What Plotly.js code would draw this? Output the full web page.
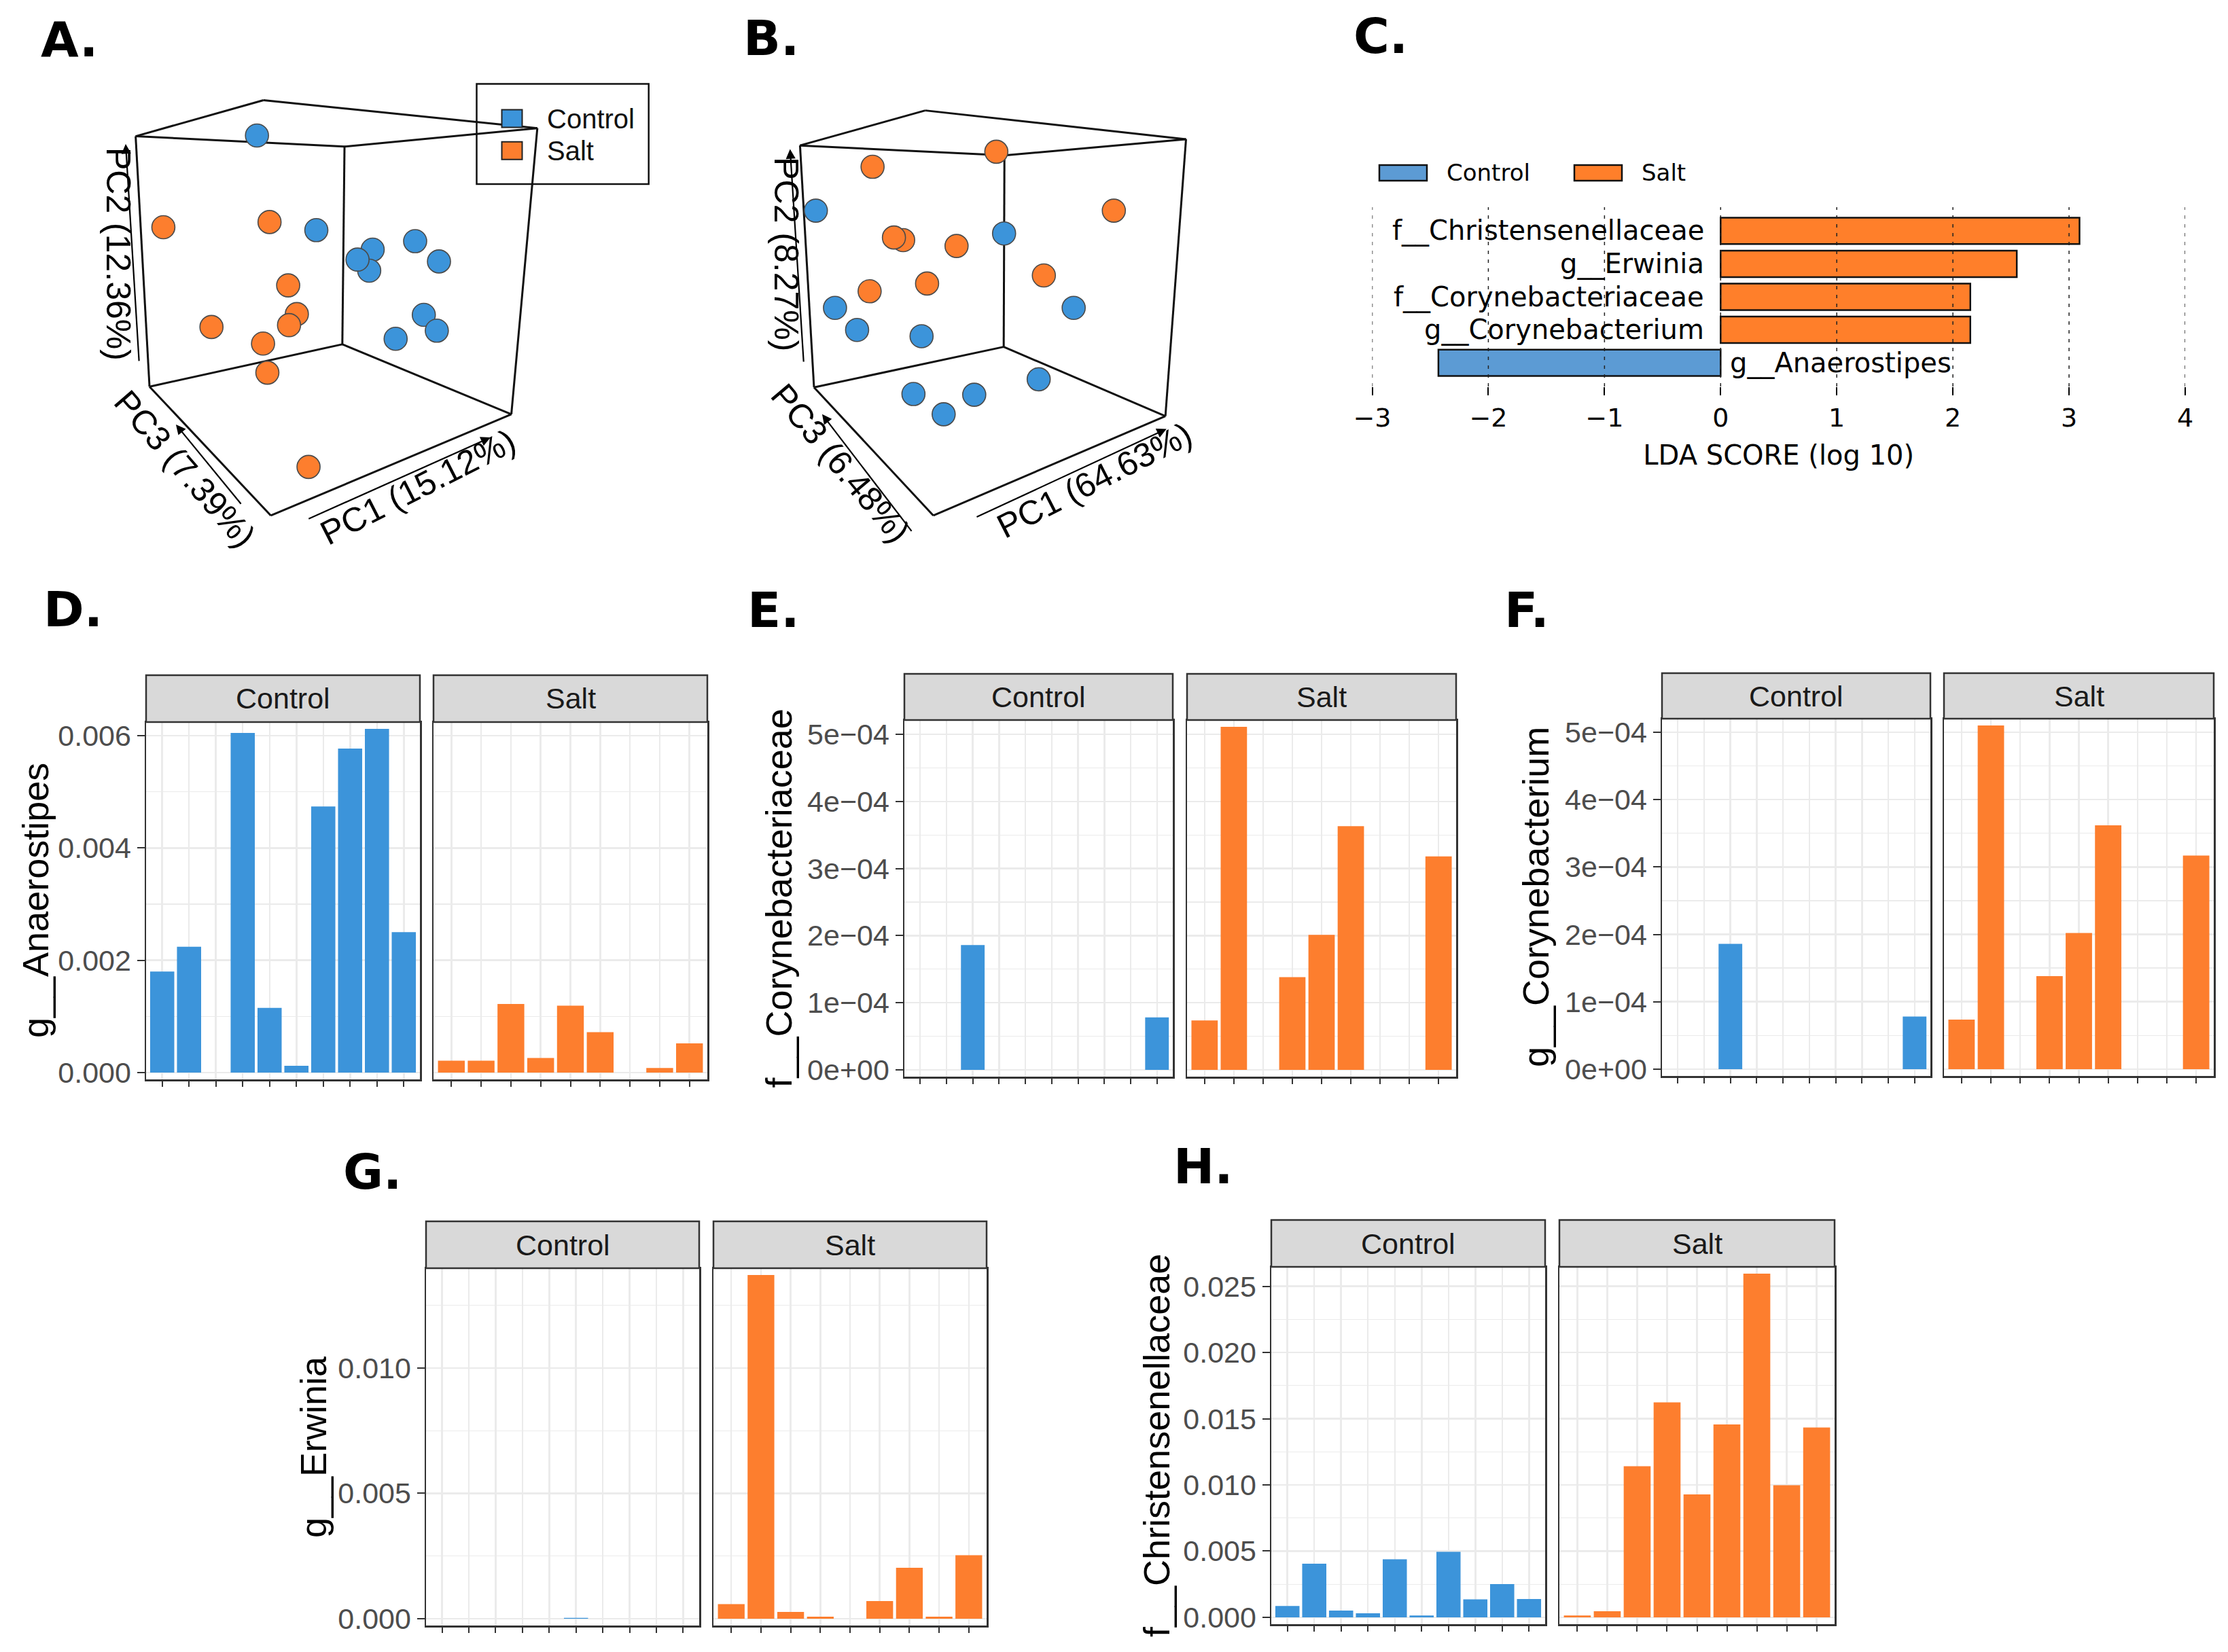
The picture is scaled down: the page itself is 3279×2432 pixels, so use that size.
<!DOCTYPE html>
<html><head><meta charset="utf-8">
<script src="https://cdn.plot.ly/plotly-3.0.1.min.js"></script>
<style>html,body{margin:0;padding:0;background:#fff}#chart{width:3279px;height:2432px}</style>
</head><body><div id="chart"></div>
<script>
const W = 3279, H = 2432;

// ---------- groups ----------
const groups = ['Control', 'Salt'];
const groupColors = ['#3C94DA', '#FD7E2E'];
const ldaColors = ['#5C9BD4', '#FF7F2A'];

// ---------- Panel A: PCoA projection ----------
const pcaA_controlX = [593, 730, 860, 852, 825, 958, 1013, 978, 1008, 913];
const pcaA_controlY = [368, 625, 678, 735, 705, 655, 710, 855, 898, 920];
const pcaA_saltX = [377, 622, 665, 685, 667, 488, 607, 617, 712];
const pcaA_saltY = [617, 603, 775, 853, 883, 888, 933, 1012, 1268];
const pcaA_axisLabels = ['PC1 (15.12%)', 'PC2 (12.36%)', 'PC3 (7.39%)'];

// ---------- Panel B ----------
const pcaB_controlX = [278, 789, 330, 390, 565, 978, 883, 543, 708, 625];
const pcaB_controlY = [572, 634, 836, 896, 913, 836, 1030, 1070, 1072, 1125];
const pcaB_saltX = [432, 768, 1087, 515, 490, 660, 897, 580, 424];
const pcaB_saltY = [453, 412, 572, 652, 645, 668, 748, 770, 791];
const pcaB_axisLabels = ['PC1 (64.63%)', 'PC2 (8.27%)', 'PC3 (6.48%)'];

// ---------- Panel C: LEfSe ----------
const ldaTaxa = ['f__Christensenellaceae', 'g__Erwinia', 'f__Corynebacteriaceae', 'g__Corynebacterium', 'g__Anaerostipes'];
const ldaScores = [3.09, 2.55, 2.15, 2.15, -2.43];
const ldaGroup = ['Salt', 'Salt', 'Salt', 'Salt', 'Control'];
const ldaTicks = [-3, -2, -1, 0, 1, 2, 3, 4];

// ---------- Panels D-H: relative abundance per sample ----------
const samplesControl = ['C1','C2','C3','C4','C5','C6','C7','C8','C9','C10'];
const samplesSalt = ['S1','S2','S3','S4','S5','S6','S7','S8','S9'];

const anaerostipesControl = [0.00180, 0.00224, 0, 0.00605, 0.00115, 0.00012, 0.00474, 0.00577, 0.00612, 0.00250];
const anaerostipesSalt = [0.00021, 0.00021, 0.00122, 0.00026, 0.00119, 0.00072, 0, 0.00008, 0.00052];
const anaerostipesTickVals = [0, 0.002, 0.004, 0.006];
const anaerostipesTickText = ['0.000', '0.002', '0.004', '0.006'];
const anaerostipesMinor = [0.001, 0.003, 0.005];

const corynebacteriaceaeControl = [0, 0, 0.000186, 0, 0, 0, 0, 0, 0, 0.000078];
const corynebacteriaceaeSalt = [0.0000735, 0.000511, 0, 0.000138, 0.000201, 0.000363, 0, 0, 0.000318];
const corynebacteriumControl = [0, 0, 0.000186, 0, 0, 0, 0, 0, 0, 0.000078];
const corynebacteriumSalt = [0.0000734, 0.000510, 0, 0.000138, 0.000202, 0.000362, 0, 0, 0.000317];
const sciTickVals = [0, 0.0001, 0.0002, 0.0003, 0.0004, 0.0005];
const sciTickText = ['0e+00', '1e\u221204', '2e\u221204', '3e\u221204', '4e\u221204', '5e\u221204'];
const sciMinor = [0.00005, 0.00015, 0.00025, 0.00035, 0.00045];

const erwiniaControl = [0, 0, 0, 0, 0, 0.00003, 0, 0, 0, 0];
const erwiniaSalt = [0.00058, 0.01371, 0.00027, 0.00008, 0, 0.00070, 0.00203, 0.00008, 0.00253];
const erwiniaTickVals = [0, 0.005, 0.010];
const erwiniaTickText = ['0.000', '0.005', '0.010'];
const erwiniaMinor = [0.0025, 0.0075, 0.0125];

const christensenellaceaeControl = [0.00085, 0.00405, 0.00051, 0.00030, 0.00438, 0.00013, 0.00495, 0.00136, 0.00251, 0.00138];
const christensenellaceaeSalt = [0.00013, 0.00046, 0.01141, 0.01623, 0.00928, 0.01456, 0.02595, 0.00997, 0.01433];
const christensenellaceaeTickVals = [0, 0.005, 0.010, 0.015, 0.020, 0.025];
const christensenellaceaeTickText = ['0.000', '0.005', '0.010', '0.015', '0.020', '0.025'];
const christensenellaceaeMinor = [0.0025, 0.0075, 0.0125, 0.0175, 0.0225];

// ---------- helpers ----------
const px = v => v / W;
const py = v => 1 - v / H;

const traces = [];
const layout = {
  width: W, height: H,
  margin: {l: 0, r: 0, t: 0, b: 0},
  paper_bgcolor: '#ffffff', plot_bgcolor: '#ffffff',
  showlegend: false, barmode: 'overlay',
  font: {family: 'Liberation Sans, Arial, sans-serif', color: '#000'},
  shapes: [], annotations: []
};

function panelLabel(text, x, y) {
  layout.annotations.push({text: '<b>' + text + '</b>', xref: 'paper', yref: 'paper',
    x: px(x), y: py(y), xanchor: 'left', yanchor: 'middle', showarrow: false,
    font: {family: 'DejaVu Sans', size: 72, color: '#000'}});
}

// ---------- 3D-projection panels (A, B) ----------
function pcaPanel(ax, domX, cX, cY, sX, sY, box, arrows, labels, labelPos) {
  const xa = ax === 1 ? 'xaxis' : 'xaxis' + ax, ya = ax === 1 ? 'yaxis' : 'yaxis' + ax;
  const xr = ax === 1 ? 'x' : 'x' + ax, yr = ax === 1 ? 'y' : 'y' + ax;
  layout[xa] = {domain: [px(domX[0]), px(domX[1])], range: [0, 1568], visible: false, anchor: yr};
  layout[ya] = {domain: [py(850), py(0)], range: [1568, 0], visible: false, anchor: xr};
  box.forEach(s => layout.shapes.push({type: 'line', xref: xr, yref: yr, x0: s[0], y0: s[1], x1: s[2], y1: s[3],
    line: {color: '#111', width: 3}, layer: 'below'}));
  const data = [[cX, cY], [sX, sY]];
  data.forEach((d, i) => traces.push({type: 'scatter', mode: 'markers', x: d[0], y: d[1], xaxis: xr, yaxis: yr,
    name: groups[i], hoverinfo: 'skip',
    marker: {size: 34, color: groupColors[i], line: {color: '#4a4a4a', width: 1.6}}}));
  arrows.forEach(a => layout.annotations.push({text: '', xref: xr, yref: yr, axref: xr, ayref: yr,
    x: a[0], y: a[1], ax: a[2], ay: a[3], showarrow: true, arrowhead: 2, arrowsize: 1.3,
    arrowwidth: 2.2, arrowcolor: '#000', standoff: 0, startstandoff: 0}));
  labels.forEach((t, i) => layout.annotations.push({text: t, xref: xr, yref: yr,
    x: labelPos[i][0], y: labelPos[i][1], textangle: labelPos[i][2], showarrow: false,
    xanchor: 'center', yanchor: 'middle', font: {family: 'Liberation Sans', size: 50, color: '#000'}}));
}

pcaPanel(1, [0, 1000], pcaA_controlX, pcaA_controlY, pcaA_saltX, pcaA_saltY,
  [[313,370,608,272],[608,272,1240,348],[313,370,795,398],[795,398,1240,348],[795,398,790,935],
   [313,370,345,1050],[1240,348,1180,1125],[345,1050,790,935],[790,935,1180,1125],
   [345,1050,625,1400],[625,1400,1180,1125]],
  [[290,391,321,983],[406,1153,558,1371],[1132,1188,710,1410]],
  pcaA_axisLabels, [[965,1322,-27],[273,690,90],[426,1273,49]]);

pcaPanel(2, [1050, 1900], pcaB_controlX, pcaB_controlY, pcaB_saltX, pcaB_saltY,
  [[235,395,575,300],[575,300,1283,378],[235,395,790,422],[790,422,1283,378],[790,422,788,942],
   [235,395,273,1052],[1283,378,1227,1130],[273,1052,788,942],[788,942,1227,1130],
   [273,1052,597,1400],[597,1400,1227,1130]],
  [[208,405,245,985],[295,1125,540,1445],[1230,1165,712,1405]],
  pcaB_axisLabels, [[1035,1305,-27],[197,690,90],[345,1258,50]]);

// Legend of panel A
layout.shapes.push({type: 'rect', xref: 'paper', yref: 'paper', x0: px(701.5), x1: px(954.7), y0: py(271), y1: py(123.6),
  line: {color: '#111', width: 2.5}, fillcolor: '#ffffff', layer: 'below'});
groups.forEach((g, i) => {
  const yc = [174.5, 221.7][i];
  layout.shapes.push({type: 'rect', xref: 'paper', yref: 'paper', x0: px(738.5), x1: px(768.5),
    y0: py(yc + 13), y1: py(yc - 13), fillcolor: groupColors[i], line: {color: '#222', width: 2}, layer: 'above'});
  layout.annotations.push({text: g, xref: 'paper', yref: 'paper', x: px(803), y: py(yc), xanchor: 'left',
    yanchor: 'middle', showarrow: false, font: {family: 'Liberation Sans', size: 40, color: '#111'}});
});

// ---------- Panel C ----------
layout.xaxis3 = {domain: [px(2019.5), px(3216)], range: [-3, 4], anchor: 'y3', tickvals: ldaTicks,
  ticks: 'outside', ticklen: 12, tickwidth: 2, tickcolor: '#000', showgrid: false, zeroline: false,
  showline: false, tickfont: {family: 'DejaVu Sans', size: 38, color: '#000'},
  title: {text: 'LDA SCORE (log 10)', font: {family: 'DejaVu Sans', size: 40, color: '#000'}, standoff: 20}};
layout.yaxis3 = {domain: [py(569), py(305)], type: 'category', categoryorder: 'array', categoryarray: ldaTaxa,
  range: [4.72, -0.72], anchor: 'x3', showticklabels: false, ticks: '', showgrid: false, zeroline: false, showline: false};
layout.xaxis14 = {overlaying: 'x3', anchor: 'y3', side: 'top', range: [-3, 4], tickvals: ldaTicks,
  ticks: 'outside', ticklen: 12, tickwidth: 2, tickcolor: '#000', showticklabels: false,
  showgrid: false, zeroline: false, showline: false};
groups.forEach((g, gi) => {
  const idx = ldaGroup.map((v, i) => v === g ? i : -1).filter(i => i >= 0);
  traces.push({type: 'bar', orientation: 'h', xaxis: 'x3', yaxis: 'y3', name: g, hoverinfo: 'skip',
    x: idx.map(i => ldaScores[i]), y: idx.map(i => ldaTaxa[i]), width: 0.8, base: 0,
    marker: {color: ldaColors[gi], line: {color: '#111', width: 2.5}}});
});
ldaTicks.forEach(v => layout.shapes.push({type: 'line', xref: 'x3', yref: 'y3 domain', x0: v, x1: v, y0: 0, y1: 1,
  line: {color: '#222', width: 1.5, dash: '5px,8px'}, layer: 'above'}));
ldaTaxa.forEach((t, i) => layout.annotations.push({text: t, xref: 'x3', yref: 'y3', x: 0, y: t,
  xanchor: ldaScores[i] > 0 ? 'right' : 'left', xshift: ldaScores[i] > 0 ? -22 : 12, yanchor: 'middle',
  showarrow: false, font: {family: 'DejaVu Sans', size: 40, color: '#000'}}));
// legend C
groups.forEach((g, i) => {
  const x0 = [2030, 2317][i];
  layout.shapes.push({type: 'rect', xref: 'paper', yref: 'paper', x0: px(x0), x1: px(x0 + 70), y0: py(266), y1: py(243),
    fillcolor: ldaColors[i], line: {color: '#111', width: 2.5}});
  layout.annotations.push({text: g, xref: 'paper', yref: 'paper', x: px(x0 + 97), y: py(254.5), xanchor: 'left',
    yanchor: 'middle', showarrow: false, font: {family: 'DejaVu Sans', size: 34, color: '#000'}});
});

// ---------- Facet panels D-H ----------
const facets = [
  {title: 'g__Anaerostipes', ctrl: anaerostipesControl, salt: anaerostipesSalt, tv: anaerostipesTickVals, tt: anaerostipesTickText, mv: anaerostipesMinor,
   box: {c: [215, 618], s: [638, 1041], strip: 994, top: 1063, bot: 1589, tx: 52}},
  {title: 'f__Corynebacteriaceae', ctrl: corynebacteriaceaeControl, salt: corynebacteriaceaeSalt, tv: sciTickVals, tt: sciTickText, mv: sciMinor,
   box: {c: [1331, 1726], s: [1747, 2143], strip: 992, top: 1060, bot: 1585, tx: 1145}},
  {title: 'g__Corynebacterium', ctrl: corynebacteriumControl, salt: corynebacteriumSalt, tv: sciTickVals, tt: sciTickText, mv: sciMinor,
   box: {c: [2446, 2841], s: [2861, 3258], strip: 991, top: 1058, bot: 1584, tx: 2260}},
  {title: 'g__Erwinia', ctrl: erwiniaControl, salt: erwiniaSalt, tv: erwiniaTickVals, tt: erwiniaTickText, mv: erwiniaMinor,
   box: {c: [627, 1029], s: [1050, 1452], strip: 1798, top: 1867, bot: 2393, tx: 461}},
  {title: 'f__Christensenellaceae', ctrl: christensenellaceaeControl, salt: christensenellaceaeSalt, tv: christensenellaceaeTickVals, tt: christensenellaceaeTickText, mv: christensenellaceaeMinor,
   box: {c: [1871, 2274], s: [2295, 2700], strip: 1796, top: 1865, bot: 2391, tx: 1702}}
];

let axn = 4;
facets.forEach(f => {
  const mx = Math.max(...f.ctrl, ...f.salt);
  const yr = [-0.02 * mx, 1.02 * mx];
  const b = f.box;
  [[f.ctrl, samplesControl, b.c, 0], [f.salt, samplesSalt, b.s, 1]].forEach(([vals, samples, xs, gi]) => {
    const n = axn++;
    layout['xaxis' + n] = {domain: [px(xs[0]), px(xs[1])], anchor: 'y' + n, type: 'category',
      categoryorder: 'array', categoryarray: samples, range: [-0.6, samples.length - 0.4],
      showticklabels: false, ticks: 'outside', ticklen: 8, tickwidth: 2, tickcolor: '#333',
      showgrid: true, gridcolor: '#EBEBEB', gridwidth: 2.5, zeroline: false,
      showline: true, mirror: true, linecolor: '#333', linewidth: 2.5};
    layout['yaxis' + n] = {domain: [py(b.bot), py(b.top)], anchor: 'x' + n, range: yr,
      tickmode: 'array', tickvals: f.tv, ticktext: f.tt, showticklabels: gi === 0,
      ticks: gi === 0 ? 'outside' : '', ticklen: 11, tickwidth: 2, tickcolor: '#333',
      tickfont: {family: 'Liberation Sans', size: 43, color: '#4D4D4D'},
      showgrid: true, gridcolor: '#EBEBEB', gridwidth: 2.5, zeroline: false,
      minor: {tickmode: 'array', tickvals: f.mv, showgrid: true, gridcolor: '#EBEBEB', gridwidth: 1.3, ticks: ''},
      showline: true, mirror: true, linecolor: '#333', linewidth: 2.5};
    traces.push({type: 'bar', x: samples, y: vals, xaxis: 'x' + n, yaxis: 'y' + n, name: groups[gi],
      width: 0.9, hoverinfo: 'skip', marker: {color: groupColors[gi], line: {width: 0}}});
    // strip
    layout.shapes.push({type: 'rect', xref: 'paper', yref: 'paper', x0: px(xs[0]), x1: px(xs[1]),
      y0: py(b.top), y1: py(b.strip), fillcolor: '#D9D9D9', line: {color: '#333', width: 2.5}});
    layout.annotations.push({text: groups[gi], xref: 'paper', yref: 'paper', x: px((xs[0] + xs[1]) / 2),
      y: py((b.strip + b.top) / 2), xanchor: 'center', yanchor: 'middle', showarrow: false,
      font: {family: 'Liberation Sans', size: 43, color: '#1A1A1A'}});
  });
  layout.annotations.push({text: f.title, xref: 'paper', yref: 'paper', x: px(b.tx), y: py((b.top + b.bot) / 2),
    textangle: -90, xanchor: 'center', yanchor: 'middle', showarrow: false,
    font: {family: 'Liberation Sans', size: 54, color: '#000'}});
});

// ---------- panel letters ----------
panelLabel('A.', 58, 58);
panelLabel('B.', 1092, 56);
panelLabel('C.', 1990, 53);
panelLabel('D.', 62, 897);
panelLabel('E.', 1098, 898);
panelLabel('F.', 2212, 898);
panelLabel('G.', 503, 1725);
panelLabel('H.', 1725, 1717);

Plotly.newPlot('chart', traces, layout, {staticPlot: true, displayModeBar: false});
</script>
</body></html>
